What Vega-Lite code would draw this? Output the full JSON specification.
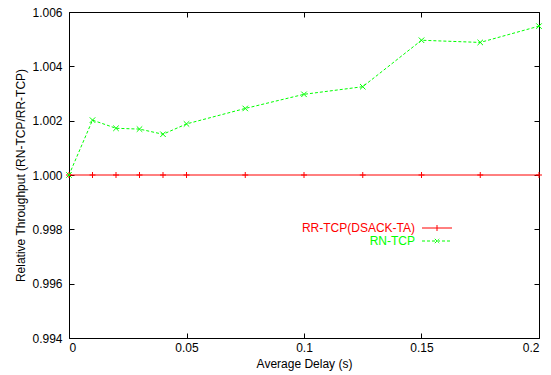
{
  "$schema": "https://vega.github.io/schema/vega-lite/v6.json",
  "width": 470,
  "height": 326,
  "autosize": {"type": "none"},
  "padding": {"left": 69, "top": 12, "right": 12, "bottom": 37},
  "background": "white",
  "config": {
    "font": "Liberation Sans",
    "view": {"stroke": "black", "strokeWidth": 1},
    "axis": {
      "labelFont": "Liberation Sans",
      "titleFont": "Liberation Sans",
      "labelFontSize": 12,
      "titleFontSize": 12,
      "titleFontWeight": "normal",
      "labelColor": "black",
      "titleColor": "black",
      "tickColor": "black",
      "tickWidth": 1,
      "grid": false,
      "domain": false
    },
    "legend": {"labelFont": "Liberation Sans"}
  },
  "data": {
    "values": [
      {"delay": 0, "value": 1.0, "series": "RR-TCP(DSACK-TA)"},
      {"delay": 0.01, "value": 1.0, "series": "RR-TCP(DSACK-TA)"},
      {"delay": 0.02, "value": 1.0, "series": "RR-TCP(DSACK-TA)"},
      {"delay": 0.03, "value": 1.0, "series": "RR-TCP(DSACK-TA)"},
      {"delay": 0.04, "value": 1.0, "series": "RR-TCP(DSACK-TA)"},
      {"delay": 0.05, "value": 1.0, "series": "RR-TCP(DSACK-TA)"},
      {"delay": 0.075, "value": 1.0, "series": "RR-TCP(DSACK-TA)"},
      {"delay": 0.1, "value": 1.0, "series": "RR-TCP(DSACK-TA)"},
      {"delay": 0.125, "value": 1.0, "series": "RR-TCP(DSACK-TA)"},
      {"delay": 0.15, "value": 1.0, "series": "RR-TCP(DSACK-TA)"},
      {"delay": 0.175, "value": 1.0, "series": "RR-TCP(DSACK-TA)"},
      {"delay": 0.2, "value": 1.0, "series": "RR-TCP(DSACK-TA)"},
      {"delay": 0, "value": 1.0, "series": "RN-TCP"},
      {"delay": 0.01, "value": 1.00202, "series": "RN-TCP"},
      {"delay": 0.02, "value": 1.00172, "series": "RN-TCP"},
      {"delay": 0.03, "value": 1.00169, "series": "RN-TCP"},
      {"delay": 0.04, "value": 1.0015, "series": "RN-TCP"},
      {"delay": 0.05, "value": 1.00188, "series": "RN-TCP"},
      {"delay": 0.075, "value": 1.00245, "series": "RN-TCP"},
      {"delay": 0.1, "value": 1.00297, "series": "RN-TCP"},
      {"delay": 0.125, "value": 1.00325, "series": "RN-TCP"},
      {"delay": 0.15, "value": 1.00496, "series": "RN-TCP"},
      {"delay": 0.175, "value": 1.00488, "series": "RN-TCP"},
      {"delay": 0.2, "value": 1.00548, "series": "RN-TCP"}
    ]
  },
  "layer": [
    {
      "mark": {"type": "line", "strokeWidth": 1},
      "encoding": {
        "x": {
          "field": "delay", "type": "quantitative",
          "scale": {"domain": [0, 0.2], "nice": false},
          "axis": {"orient": "bottom", "values": [0, 0.05, 0.1, 0.15, 0.2], "format": "~g", "title": "Average Delay (s)", "tickSize": -5, "labelPadding": 9, "titlePadding": 5}
        },
        "y": {
          "field": "value", "type": "quantitative",
          "scale": {"domain": [0.994, 1.006], "nice": false, "zero": false},
          "axis": {"orient": "left", "values": [0.994, 0.996, 0.998, 1.0, 1.002, 1.004, 1.006], "format": ".3f", "title": "Relative Throughput (RN-TCP/RR-TCP)", "tickSize": -5, "labelPadding": 12, "titlePadding": 4}
        },
        "color": {
          "field": "series", "type": "nominal",
          "scale": {"domain": ["RR-TCP(DSACK-TA)", "RN-TCP"], "range": ["#ff0000", "#00ff00"]},
          "legend": {
            "orient": "none", "legendX": 362, "legendY": 210,
            "title": null, "padding": 0, "labelFontSize": 12,
            "labelAlign": "right", "labelOffset": -28, "labelBaseline": "middle",
            "rowPadding": 1, "symbolSize": 16, "symbolStrokeWidth": 1,
            "encode": {
              "symbols": {"update": {
                "shape": {"signal": "datum.value === 'RN-TCP' ? 'M-7.5,0L7.5,0M-1.1,-1.1L1.1,1.1M-1.1,1.1L1.1,-1.1' : 'M-7.5,0L7.5,0M0,-1.5L0,1.5'"},
                "size": {"value": 16},
                "strokeDash": {"signal": "datum.value === 'RN-TCP' ? [3,2] : [1,0]"},
                "fill": {"value": "transparent"},
                "stroke": {"scale": "color", "field": "value"},
                "strokeWidth": {"value": 1},
                "opacity": {"value": 1}
              }},
              "labels": {"update": {"fill": {"signal": "datum.value === 'RN-TCP' ? '#00ff00' : '#ff0000'"}}}
            }
          }
        },
        "strokeDash": {
          "field": "series", "type": "nominal",
          "scale": {"domain": ["RR-TCP(DSACK-TA)", "RN-TCP"], "range": [[1, 0], [3, 2]]},
          "legend": null
        }
      }
    },
    {
      "transform": [{"filter": "datum.series === 'RR-TCP(DSACK-TA)'"}],
      "mark": {"type": "point", "filled": false, "size": 36, "strokeWidth": 1, "opacity": 1, "color": "#ff0000", "shape": "M-1,0L1,0M0,-1L0,1"},
      "encoding": {
        "x": {
          "field": "delay", "type": "quantitative",
          "axis": {"orient": "top", "values": [0, 0.05, 0.1, 0.15, 0.2], "labels": false, "title": null, "tickSize": -5}
        },
        "y": {
          "field": "value", "type": "quantitative",
          "axis": {"orient": "right", "values": [0.994, 0.996, 0.998, 1.0, 1.002, 1.004, 1.006], "labels": false, "title": null, "tickSize": -5}
        }
      }
    },
    {
      "transform": [{"filter": "datum.series === 'RN-TCP'"}],
      "mark": {"type": "point", "filled": false, "size": 30, "strokeWidth": 1, "opacity": 1, "color": "#00ff00", "shape": "M-1,-1L1,1M-1,1L1,-1"},
      "encoding": {
        "x": {"field": "delay", "type": "quantitative", "axis": null},
        "y": {"field": "value", "type": "quantitative", "axis": null}
      }
    }
  ],
  "resolve": {"axis": {"x": "independent", "y": "independent"}}
}
